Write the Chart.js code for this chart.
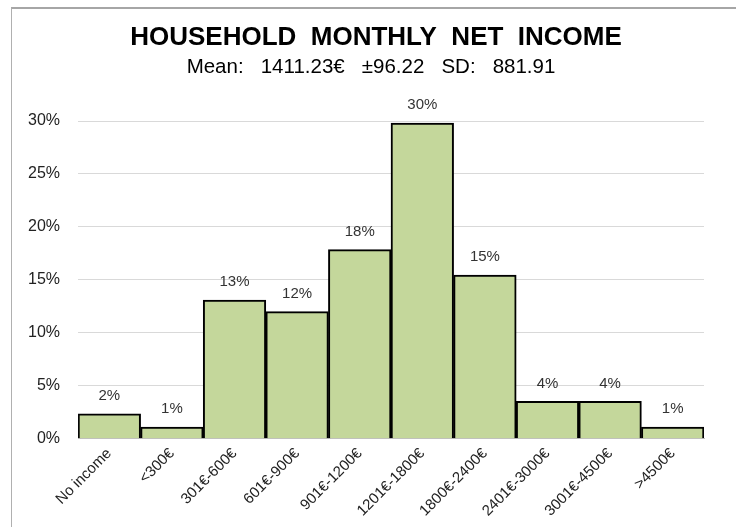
<!DOCTYPE html>
<html lang="en">
<head>
<meta charset="UTF-8">
<title>Household Monthly Net Income</title>
<script src="https://cdn.jsdelivr.net/npm/chart.js"></script>
<style>
  html, body { margin: 0; padding: 0; background: #fff; }
  #wrap { position: relative; width: 736px; height: 527px; overflow: hidden; }
  #frame { position: absolute; left: 11px; top: 7px; right: 0; bottom: 0;
           border-top: 2px solid #a6a6a6; border-left: 1px solid #b0b0b0; }
  canvas { position: absolute; left: 0; top: 0; }
</style>
</head>
<body>
<div id="wrap">
  <div id="frame"></div>
  <canvas id="incomeChart" width="736" height="527"></canvas>
</div>
<script>
// income brackets and share of households (%)
const categories = ['No income', '<300€', '301€-600€', '601€-900€', '901€-1200€',
                    '1201€-1800€', '1800€-2400€', '2401€-3000€', '3001€-4500€', '>4500€'];
const shares = [2.36, 1.10, 13.1, 12.0, 17.85, 29.8, 15.45, 3.53, 3.53, 1.10];
const yTicks = [0, 5, 10, 15, 20, 25, 30];
const titleText = 'HOUSEHOLD  MONTHLY  NET  INCOME';
const subtitleText = 'Mean:   1411.23€   ±96.22   SD:   881.91';

// heading is centred on the whole picture, not on the padded layout box
const heading = {
  id: 'heading',
  afterDraw(chart) {
    const ctx = chart.ctx;
    ctx.save();
    ctx.fillStyle = '#000';
    ctx.textAlign = 'center';
    ctx.textBaseline = 'alphabetic';
    ctx.font = 'bold 26px "Liberation Sans", Arial, sans-serif';
    ctx.fillText(titleText, 376, 45);
    ctx.font = '20.5px "Liberation Sans", Arial, sans-serif';
    ctx.fillText(subtitleText, 371, 73);
    ctx.restore();
  }
};

// draws the rounded % above every bar
const valueLabels = {
  id: 'valueLabels',
  afterDatasetsDraw(chart) {
    const ctx = chart.ctx;
    const meta = chart.getDatasetMeta(0);
    ctx.save();
    ctx.font = '15px "Liberation Sans", Arial, sans-serif';
    ctx.fillStyle = '#333';
    ctx.textAlign = 'center';
    ctx.textBaseline = 'middle';
    meta.data.forEach((bar, i) => {
      ctx.fillText(Math.round(shares[i]) + '%', bar.x, bar.y - 18);
    });
    ctx.restore();
  }
};

Chart.defaults.font.family = '"Liberation Sans", Arial, sans-serif';
Chart.defaults.color = '#222';

new Chart(document.getElementById('incomeChart'), {
  type: 'bar',
  data: {
    labels: categories,
    datasets: [{
      data: shares,
      backgroundColor: '#c4d79b',
      borderColor: '#000',
      borderWidth: 2,
      categoryPercentage: 1,
      barPercentage: 1
    }]
  },
  options: {
    responsive: false,
    animation: false,
    layout: { padding: { left: 10, right: 32, top: 121, bottom: 1 } },
    plugins: {
      legend: { display: false },
      tooltip: { enabled: false },
      title: { display: false }
    },
    scales: {
      x: {
        grid: { display: false, drawTicks: false },
        border: { color: '#bfbfbf', width: 1 },
        ticks: {
          color: '#222',
          font: { size: 15 },
          maxRotation: 45,
          minRotation: 45,
          padding: 6,
          autoSkip: false
        }
      },
      y: {
        min: 0,
        max: 30,
        afterBuildTicks(axis) { axis.ticks = yTicks.map(v => ({ value: v })); },
        grid: { color: '#d9d9d9', lineWidth: 1, drawTicks: false },
        border: { display: false },
        ticks: {
          color: '#222',
          font: { size: 16 },
          padding: 18,
          callback: v => v + '%'
        }
      }
    }
  },
  plugins: [heading, valueLabels]
});
</script>
</body>
</html>
